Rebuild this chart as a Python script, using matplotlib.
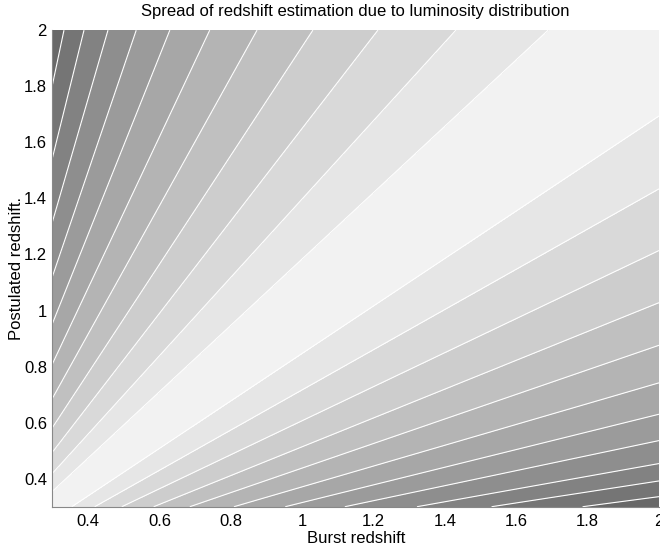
import matplotlib
matplotlib.use('Agg')
import matplotlib.pyplot as plt
from matplotlib.ticker import FuncFormatter
import numpy as np

plt.rcParams['font.family'] = ['Liberation Sans', 'DejaVu Sans']

# contour boundaries, read as postulated/burst ratio along the plot edges
ratio_below = [0.168, 0.196, 0.227, 0.268, 0.315, 0.371, 0.438, 0.514, 0.607, 0.717, 0.847]
ratio_above = [1.184, 1.398, 1.650, 1.942, 2.290, 2.700, 3.180, 3.740, 4.390, 5.150, 6.020]
# grey level of each band, from the central band outwards
band_grey = [242, 230, 217, 205, 192, 180, 167, 155, 142, 130, 117, 104]

x_ticks = [0.4, 0.6, 0.8, 1.0, 1.2, 1.4, 1.6, 1.8, 2.0]
y_ticks = [0.4, 0.6, 0.8, 1.0, 1.2, 1.4, 1.6, 1.8, 2.0]
z_min, z_max = 0.3, 2.0

burst = np.linspace(z_min, z_max, 500)
post = np.linspace(z_min, z_max, 500)
X, Y = np.meshgrid(burst, post)
R = Y / X

levels = [0.0] + ratio_below + ratio_above + [100.0]
greys = band_grey[::-1] + band_grey[1:]
colors = [(g / 255, g / 255, g / 255) for g in greys]

fig = plt.figure(figsize=(6.6, 5.49), dpi=100)
ax = fig.add_axes([0.0795, 0.077, 0.919, 0.868])
ax.contourf(X, Y, R, levels=levels, colors=colors)
ax.contour(X, Y, R, levels=ratio_below + ratio_above, colors='white', linewidths=0.8)

ax.set_xlim(z_min, z_max)
ax.set_ylim(z_min, z_max)
ax.set_xticks(x_ticks)
ax.set_yticks(y_ticks)
fmt = FuncFormatter(lambda v, p: '%g' % v)
ax.xaxis.set_major_formatter(fmt)
ax.yaxis.set_major_formatter(fmt)
ax.tick_params(length=0, labelsize=12)
ax.tick_params(axis='x', pad=5)
ax.tick_params(axis='y', pad=4)
for s in ['top', 'right']:
    ax.spines[s].set_visible(False)
for s in ['left', 'bottom']:
    ax.spines[s].set_color('#888888')
    ax.spines[s].set_linewidth(0.8)

ax.set_title('Spread of redshift estimation due to luminosity distribution', fontsize=12, pad=10)
ax.set_xlabel('Burst redshift', fontsize=12, labelpad=2)
ax.set_ylabel('Postulated redshift.', fontsize=12, labelpad=0)

fig.savefig('out.png', dpi=100)
